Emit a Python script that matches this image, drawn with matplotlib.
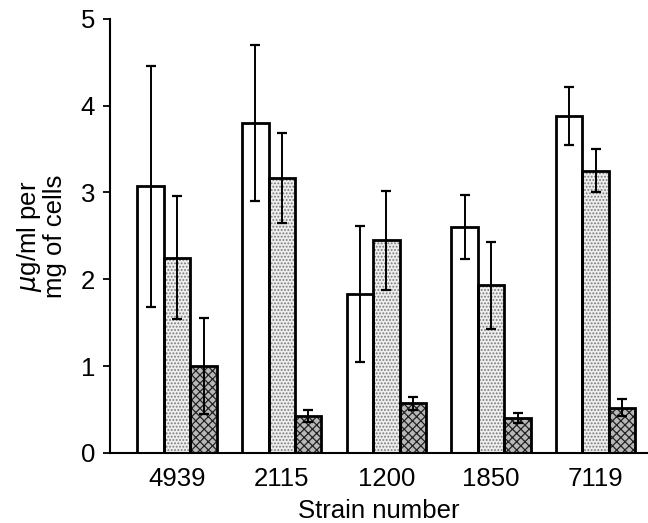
import numpy as np
import matplotlib.pyplot as plt

plt.rcParams['font.family'] = ['Liberation Sans', 'DejaVu Sans']
plt.rcParams['hatch.linewidth'] = 0.9

strains = ['4939', '2115', '1200', '1850', '7119']
open_vals = [3.07, 3.80, 1.83, 2.60, 3.88]
open_err = [1.39, 0.90, 0.78, 0.37, 0.33]
light_vals = [2.25, 3.17, 2.45, 1.93, 3.25]
light_err = [0.71, 0.52, 0.57, 0.50, 0.25]
dark_vals = [1.00, 0.43, 0.57, 0.40, 0.52]
dark_err = [0.55, 0.07, 0.07, 0.06, 0.10]

fig = plt.figure(figsize=(6.48, 5.23), dpi=100)
ax = fig.add_axes([0.170, 0.134, 0.830, 0.83])

x = np.arange(len(strains))
w = 0.253
series = [
    (open_vals, open_err, 'white', None, None),
    (light_vals, light_err, '#eeeeee', '.....', '#7a7a7a'),
    (dark_vals, dark_err, '#b8b8b8', 'xxxx', '#222222'),
]
for i, (vals, err, fc, hatch, hc) in enumerate(series):
    pos = x + (i - 1) * w
    if hatch:
        # texture layer, then outline on top
        ax.bar(pos, vals, w, color=fc, hatch=hatch, edgecolor=hc, linewidth=0, zorder=2)
    else:
        ax.bar(pos, vals, w, color=fc, linewidth=0, zorder=2)
    ax.bar(pos, vals, w, fill=False, edgecolor='black', linewidth=2.0, zorder=3)
    ax.errorbar(pos, vals, yerr=err, fmt='none', ecolor='black', elinewidth=1.4,
                capsize=3.5, capthick=1.6, zorder=4)

ax.set_xlim(-0.64, 4.5)
ax.set_ylim(0, 5)
ax.set_yticks([0, 1, 2, 3, 4, 5])
ax.set_xticks(x)
ax.set_xticklabels(strains)
ax.tick_params(axis='x', length=0, pad=10, labelsize=18.5)
ax.tick_params(axis='y', length=5, width=1.3, direction='out', labelsize=18.5, pad=6)
ax.spines['top'].set_visible(False)
ax.spines['right'].set_visible(False)
ax.spines['left'].set_linewidth(1.5)
ax.spines['bottom'].set_linewidth(1.5)

ax.set_xlabel('Strain number', fontsize=18.5, labelpad=6)
ax.set_ylabel('$\\mu$g/ml per\nmg of cells', fontsize=18.5, labelpad=10, linespacing=0.95)

fig.savefig('out.png', dpi=100)
